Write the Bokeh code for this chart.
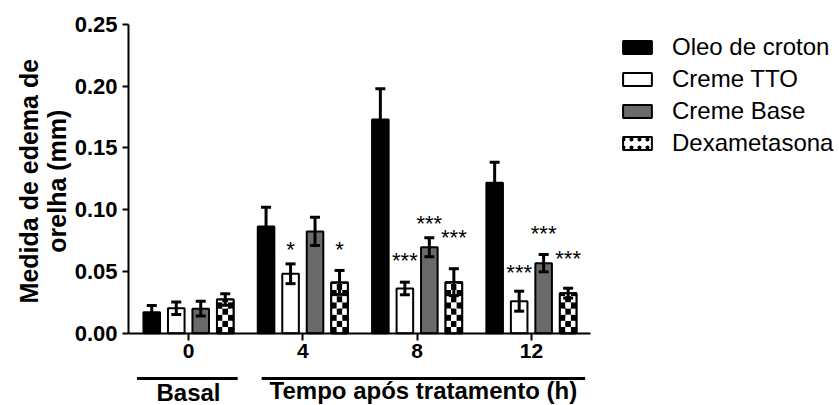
import numpy as np
from bokeh.plotting import figure
from bokeh.models import (ColumnDataSource, Range1d, FixedTicker, Whisker, TeeHead,
                          Legend, LegendItem, Label, NumeralTickFormatter)
from bokeh.core.properties import value
from bokeh.embed import file_html
from bokeh.resources import INLINE

# ---------------- data ----------------
groups = ["0", "4", "8", "12"]
series = ["Oleo de croton", "Creme TTO", "Creme Base", "Dexametasona"]
oleo_mean = [0.0170, 0.0864, 0.1731, 0.1218]
oleo_sem = [0.0054, 0.0156, 0.0248, 0.0167]
tto_mean = [0.0202, 0.0481, 0.0362, 0.0259]
tto_sem = [0.0050, 0.0080, 0.0051, 0.0081]
base_mean = [0.0198, 0.0824, 0.0696, 0.0567]
base_sem = [0.0060, 0.0115, 0.0077, 0.0070]
dexa_mean = [0.0273, 0.0411, 0.0413, 0.0324]
dexa_sem = [0.0046, 0.0097, 0.0109, 0.0040]

# significance marks: series index, group index, text, height of mark
star_series = [1, 3, 1, 2, 3, 1, 2, 3]
star_group = [1, 1, 2, 2, 2, 3, 3, 3]
star_text = ["*", "*", "***", "***", "***", "***", "***", "***"]
star_y = [0.0678, 0.0678, 0.0589, 0.0891, 0.0775, 0.0494, 0.0807, 0.0607]

# bracket labels under the x axis
bracket_labels = ["Basal", "Tempo após tratamento (h)"]
bracket_start = [-0.45, 0.64]
bracket_end = [0.43, 3.47]

y_ticks = [0.0, 0.05, 0.10, 0.15, 0.20, 0.25]
y_title = "Medida de edema de\norelha (mm)"

# ---------------- styling / layout ----------------
FONT = "Liberation Sans"
fills = ["black", "white", "#6a6a6a", "white"]
offsets = [-0.3215, -0.107, 0.107, 0.3215]
bar_w = 0.145
cell_h = 0.005
bracket_y = -0.0367
bracket_text_y = [-0.0375, -0.0353]
x_axis_span = (-0.525, 3.516)
y_axis_span = (0.0, 0.25)

means = [oleo_mean, tto_mean, base_mean, dexa_mean]
sems = [oleo_sem, tto_sem, base_sem, dexa_sem]
gx = np.arange(len(groups), dtype=float)

p = figure(width=839, height=405, output_backend="svg", toolbar_location=None,
           x_range=Range1d(-1.6448, 5.6955), y_range=Range1d(-0.0586, 0.26944),
           min_border_left=0, min_border_right=0, min_border_top=0,
           min_border_bottom=0)
p.grid.visible = False
p.outline_line_color = None
p.background_fill_color = "white"
p.border_fill_color = "white"

# x axis at y = 0
xa = p.xaxis[0]
xa.fixed_location = 0
xa.bounds = x_axis_span
xa.ticker = FixedTicker(ticks=list(gx))
xa.major_label_overrides = {i: g for i, g in enumerate(groups)}
xa.minor_tick_line_color = None
xa.major_tick_in = 0
xa.major_tick_out = 7
xa.major_tick_line_width = 2
xa.axis_line_width = 2
xa.major_label_text_font = FONT
xa.major_label_text_font_style = "bold"
xa.major_label_text_font_size = "21px"
xa.major_label_text_color = "black"
xa.major_label_standoff = 4

# y axis at the left end of the x axis
ya = p.yaxis[0]
ya.fixed_location = x_axis_span[0]
ya.bounds = y_axis_span
ya.ticker = FixedTicker(ticks=y_ticks)
ya.formatter = NumeralTickFormatter(format="0.00")
ya.minor_tick_line_color = None
ya.major_tick_in = 0
ya.major_tick_out = 6
ya.major_tick_line_width = 2
ya.axis_line_width = 2
ya.major_label_text_font = FONT
ya.major_label_text_font_style = "bold"
ya.major_label_text_font_size = "22px"
ya.major_label_text_color = "black"
ya.major_label_standoff = 5

renderers = []
for s in range(4):
    xs = gx + offsets[s]
    m = np.array(means[s])
    e = np.array(sems[s])
    src = ColumnDataSource(dict(x=xs, top=m, upper=m + e, lower=m - e))
    if s == 3:
        r = p.vbar(x="x", top="top", width=bar_w, bottom=0, source=src,
                   fill_color="white", line_color="black", line_width=2,
                   hatch_pattern="dot", hatch_scale=8, hatch_weight=4,
                   hatch_color="black")
        # checkerboard fill built from the bar heights
        L, R, B, T, C = [], [], [], [], []
        for xc, top in zip(xs, m):
            nrow = int(np.ceil(top / cell_h))
            for row in range(nrow):
                for col in range(3):
                    L.append(xc - bar_w / 2 + col * bar_w / 3)
                    R.append(xc - bar_w / 2 + (col + 1) * bar_w / 3)
                    B.append(row * cell_h)
                    T.append(min((row + 1) * cell_h, top))
                    C.append("black" if (row + col) % 2 == 0 else "white")
        p.quad(left=L, right=R, bottom=B, top=T, fill_color=C, line_color=None)
        p.vbar(x="x", top="top", width=bar_w, bottom=0, source=src,
               fill_color=None, line_color="black", line_width=2)
    else:
        r = p.vbar(x="x", top="top", width=bar_w, bottom=0, source=src,
                   fill_color=fills[s], line_color="black", line_width=2)
    renderers.append(r)
    w = Whisker(source=src, base="x", upper="upper", lower="lower",
                line_width=3, line_color="black", level="annotation",
                upper_head=TeeHead(size=10, line_width=3, line_color="black"),
                lower_head=TeeHead(size=10, line_width=3, line_color="black"))
    p.add_layout(w)

# significance stars
sx = [gx[g] + offsets[s] for s, g in zip(star_series, star_group)]
p.text(x=sx, y=star_y, text=star_text, text_align="center", text_baseline="middle",
       text_font=value(FONT), text_font_size="22px", text_color="black")

# brackets below the axis
p.segment(x0=bracket_start, y0=[bracket_y] * 2, x1=bracket_end, y1=[bracket_y] * 2,
          line_width=3, line_color="black")
mid = [(a + b) / 2 for a, b in zip(bracket_start, bracket_end)]
mid[0] = 0.0
p.text(x=mid, y=bracket_text_y, text=bracket_labels, text_align="center",
       text_baseline="top", text_font=value(FONT), text_font_style="bold",
       text_font_size="24px", text_color="black")

# y axis title
p.add_layout(Label(x=-1.273, y=0.1231, text=y_title, angle=90, angle_units="deg",
                   text_align="center", text_baseline="middle", text_font=FONT,
                   text_font_style="bold", text_font_size="25px", text_line_height=1.0,
                   text_color="black"))

# legend
items = [LegendItem(label=series[i], renderers=[renderers[i]]) for i in range(4)]
legend = Legend(items=items, location=(619, 248), glyph_width=36, glyph_height=16,
                label_text_font=FONT, label_text_font_size="24px", label_standoff=17,
                label_text_color="black",
                label_height=16, spacing=4, padding=0, margin=0,
                border_line_color=None, background_fill_alpha=0)
p.add_layout(legend, "center")

open("out.html", "w").write(file_html(p, INLINE))
